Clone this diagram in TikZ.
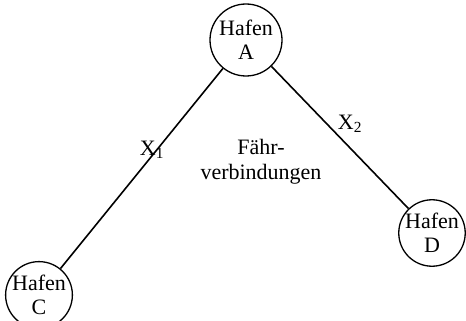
\documentclass[tikz,border=0pt]{standalone}
\usepackage{fontspec}
\setmainfont{Liberation Serif}
\begin{document}
\begin{tikzpicture}[x=1pt,y=-1pt,
  port/.style={draw,circle,line width=1.3pt,inner sep=0pt,align=center,font=\fontsize{22}{24}\selectfont},
  lbl/.style={font=\fontsize{22}{25}\selectfont,inner sep=0pt},
  link/.style={line width=1.6pt}]
\useasboundingbox (0,0) rectangle (466,321);
\node[port,minimum size=72pt] (A) at (246,40) {Hafen\\A};
\node[port,minimum size=66pt] (C) at (39,295) {Hafen\\C};
\node[port,minimum size=62pt] (D) at (432,233) {Hafen\\D};
\draw[link] (A) -- (C);
\draw[link] (A) -- (D);
\node[lbl] (x1) at (152,150) {X\textsubscript{1}};
\node[lbl] (x2) at (350,124) {X\textsubscript{2}};
\node[lbl,align=center] (f) at (261,162) {Fähr-\\verbindungen};
\end{tikzpicture}
\end{document}
